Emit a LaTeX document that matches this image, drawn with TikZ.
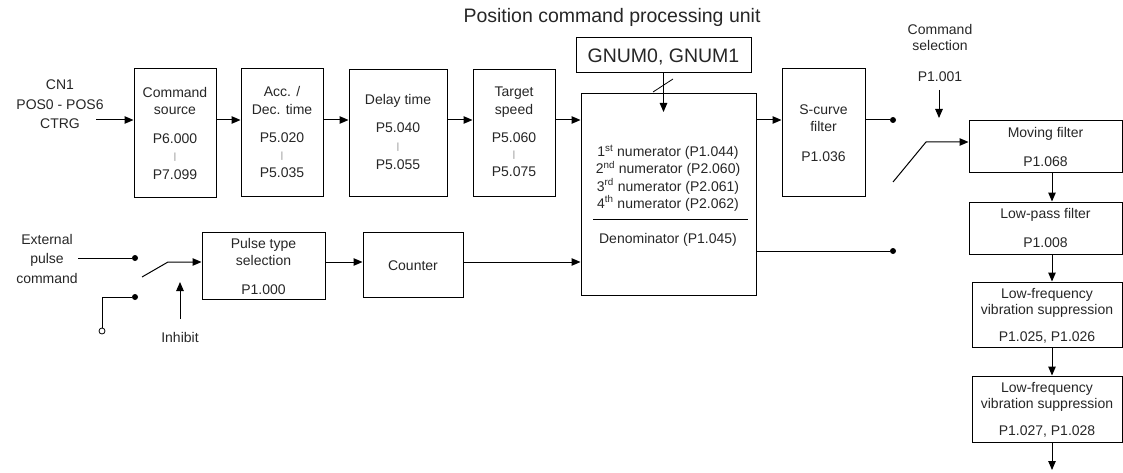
\documentclass[tikz,border=0pt]{standalone}
\usepackage{fontspec}
\setmainfont{Liberation Sans}
\usetikzlibrary{arrows.meta,calc}
\begin{document}
\begin{tikzpicture}[x=1pt,y=-1pt,
 box/.style={draw, line width=1pt, inner sep=0pt, rectangle},
 lbl/.style={anchor=base, inner sep=0pt, font=\fontsize{14}{17}\selectfont, text=black!85},
 biglbl/.style={anchor=base, inner sep=0pt, font=\fontsize{19.5}{22}\selectfont, text=black!85},
 sep/.style={anchor=base, inner sep=0pt, font=\fontsize{9}{10}\selectfont, text=black!50},
 arr/.style={-{Triangle[length=9pt,width=7.5pt]}, line width=1pt},
 wire/.style={line width=1pt},
 dot/.style={circle, fill, inner sep=0pt, minimum size=6pt},
 odot/.style={circle, draw, fill=white, inner sep=0pt, minimum size=6pt, line width=0.8pt},
]
\useasboundingbox (0,0) rectangle (1123,473);

% ---------- boxes ----------
\node[box, minimum width=82pt, minimum height=128pt] (src) at (175,133) {};
\node[box, minimum width=82pt, minimum height=127pt] (acc) at (282,132.5) {};
\node[box, minimum width=98pt, minimum height=126pt] (delay) at (398,133) {};
\node[box, minimum width=82pt, minimum height=126pt] (target) at (514,133) {};
\node[box, minimum width=175pt, minimum height=35pt] (gnum) at (663.5,55.5) {};
\node[box, minimum width=175pt, minimum height=201pt] (big) at (668.5,194.5) {};
\node[box, minimum width=83pt, minimum height=127pt] (scurve) at (823.5,132.5) {};
\node[box, minimum width=153pt, minimum height=52pt] (moving) at (1045.5,147) {};
\node[box, minimum width=153pt, minimum height=52pt] (lowpass) at (1045.5,228) {};
\node[box, minimum width=150pt, minimum height=65pt] (lfa) at (1047,314.5) {};
\node[box, minimum width=150pt, minimum height=66pt] (lfb) at (1047,409) {};
\node[box, minimum width=123pt, minimum height=67pt] (pulse) at (263.5,265.5) {};
\node[box, minimum width=100pt, minimum height=65pt] (counter) at (413,264.5) {};

% ---------- texts ----------
\node[biglbl] (title) at (612,22.5) {Position command processing unit};
\node[biglbl] (gnumt) at (663.5,63) {GNUM0, GNUM1};

\node[lbl] (cn1a) at (60,90) {CN1};
\node[lbl] (cn1b) at (60,109.5) {POS0 - POS6};
\node[lbl] (cn1c) at (60,129) {CTRG};

\node[lbl] (srca) at (175,98) {Command};
\node[lbl] (srcb) at (175,115) {source};
\node[lbl] (srcc) at (175,144) {P6.000};
\node[sep] (srcd) at (175,160) {|};
\node[lbl] (srce) at (175,179) {P7.099};

\node[lbl] (acca) at (282,97) {Acc. /};
\node[lbl] (accb) at (282,115) {Dec. time};
\node[lbl] (accc) at (282,143) {P5.020};
\node[sep] (accd) at (282,159) {|};
\node[lbl] (acce) at (282,178) {P5.035};

\node[lbl] (dela) at (398,105) {Delay time};
\node[lbl] (delb) at (398,133) {P5.040};
\node[sep] (delc) at (398,150) {|};
\node[lbl] (deld) at (398,169) {P5.055};

\node[lbl] (tara) at (514,97) {Target};
\node[lbl] (tarb) at (514,115) {speed};
\node[lbl] (tarc) at (514,143) {P5.060};
\node[sep] (tard) at (514,158) {|};
\node[lbl] (tare) at (514,177) {P5.075};

\node[lbl] (num1) at (668,157) {1\textsuperscript{st} numerator (P1.044)};
\node[lbl] (num2) at (668,174) {2\textsuperscript{nd} numerator (P2.060)};
\node[lbl] (num3) at (668,191) {3\textsuperscript{rd} numerator (P2.061)};
\node[lbl] (num4) at (668,208) {4\textsuperscript{th} numerator (P2.062)};
\coordinate (fl) at (593,219);
\coordinate (fr) at (748,219);
\draw[wire] (fl) -- (fr);
\node[lbl] (den) at (668,243) {Denominator (P1.045)};

\node[lbl] (sca) at (823.5,115) {S-curve};
\node[lbl] (scb) at (823.5,132) {filter};
\node[lbl] (scc) at (823.5,162) {P1.036};

\node[lbl] (csa) at (940,35) {Command};
\node[lbl] (csb) at (940,51) {selection};
\node[lbl] (csc) at (940,82) {P1.001};

\node[lbl] (mva) at (1045.5,138) {Moving filter};
\node[lbl] (mvb) at (1045.5,167) {P1.068};
\node[lbl] (lpa) at (1045.5,218) {Low-pass filter};
\node[lbl] (lpb) at (1045.5,247) {P1.008};
\node[lbl] (lfaa) at (1047,298) {Low-frequency};
\node[lbl] (lfab) at (1047,314) {vibration suppression};
\node[lbl] (lfac) at (1047,341) {P1.025, P1.026};
\node[lbl] (lfba) at (1047,392) {Low-frequency};
\node[lbl] (lfbb) at (1047,408) {vibration suppression};
\node[lbl] (lfbc) at (1047,435) {P1.027, P1.028};

\node[lbl] (exa) at (47,244) {External};
\node[lbl] (exb) at (47,263) {pulse};
\node[lbl] (exc) at (47,283) {command};
\node[lbl] (inh) at (180,342) {Inhibit};
\node[lbl] (pta) at (263.5,248) {Pulse type};
\node[lbl] (ptb) at (263.5,265) {selection};
\node[lbl] (ptc) at (263.5,294) {P1.000};
\node[lbl] (cnt) at (413,270) {Counter};

% ---------- top row connectors ----------
\coordinate (in1) at (96,120);
\draw[arr] (in1) -- (in1 -| src.west);
\draw[arr] (src.east |- in1) -- (acc.west |- in1);
\draw[arr] (acc.east |- in1) -- (delay.west |- in1);
\draw[arr] (delay.east |- in1) -- (target.west |- in1);
\draw[arr] (target.east |- in1) -- (big.west |- in1);
\draw[arr] (big.east |- in1) -- (scurve.west |- in1);
\node[dot] (d1) at (893,120) {};
\draw[wire] (scurve.east |- in1) -- (d1);

\coordinate (gtip) at (663.5,112);
\draw[arr] (gnum.south) -- (gtip);
\coordinate (sl1) at (653,92);
\coordinate (sl2) at (673,79);
\draw[line width=0.8pt] (sl1) -- (sl2);

\coordinate (cs1) at (939,90);
\coordinate (cs2) at (939,118);
\draw[arr] (cs1) -- (cs2);

\coordinate (sw1) at (893,182);
\coordinate (sw2) at (926,142);
\draw[arr] (sw1) -- (sw2) -- (sw2 -| moving.west);

% ---------- right column ----------
\coordinate (vx) at (1052,0);
\coordinate (endp) at (1052,470);
\draw[arr] (moving.south -| vx) -- (lowpass.north -| vx);
\draw[arr] (lowpass.south -| vx) -- (lfa.north -| vx);
\draw[arr] (lfa.south -| vx) -- (lfb.north -| vx);
\draw[arr] (lfb.south -| vx) -- (endp);

% ---------- lower row ----------
\node[dot] (d2) at (135,258) {};
\node[dot] (d3) at (135,297) {};
\coordinate (ex) at (78,258);
\draw[wire] (ex) -- (d2);
\node[odot] (oc) at (102,331) {};
\coordinate (cr) at (102,297);
\draw[wire] (d3) -- (cr) -- (oc);
\coordinate (ps1) at (142,277);
\coordinate (ps2) at (168,262);
\draw[arr] (ps1) -- (ps2) -- (ps2 -| pulse.west);
\coordinate (ih1) at (180,319);
\coordinate (ih2) at (180,282);
\draw[arr] (ih1) -- (ih2);
\draw[arr] (pulse.east |- ps2) -- (counter.west |- ps2);
\draw[arr] (counter.east |- ps2) -- (big.west |- ps2);
\node[dot] (d4) at (893,251) {};
\draw[wire] (big.east |- d4) -- (d4);
\end{tikzpicture}
\end{document}
